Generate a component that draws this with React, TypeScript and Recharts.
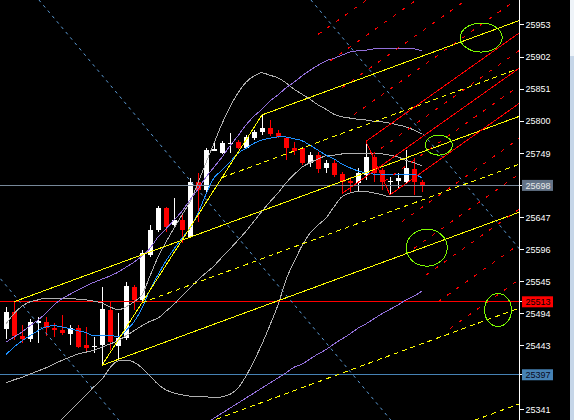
import React from 'react';
import {
  ComposedChart,
  Bar,
  Line,
  XAxis,
  YAxis,
  ReferenceLine,
  ReferenceDot,
} from 'recharts';

// candles, one entry per bar (left to right)
const opens = [25470, 25497, 25459, 25454, 25480, 25481, 25471, 25468, 25462, 25471, 25444, 25441, 25444, 25500, 25443, 25455, 25537, 25516, 25588, 25627, 25662, 25635, 25643, 25616, 25704, 25691, 25753, 25750, 25764, 25767, 25758, 25774, 25783, 25789, 25781, 25774, 25758, 25758, 25734, 25747, 25726, 25734, 25716, 25705, 25702, 25715, 25743, 25723, 25704, 25705, 25704, 25724, 25704];
const highs = [25505, 25513, 25476, 25486, 25489, 25489, 25479, 25492, 25476, 25476, 25473, 25457, 25537, 25513, 25495, 25544, 25540, 25596, 25635, 25665, 25664, 25678, 25654, 25710, 25718, 25758, 25769, 25768, 25782, 25770, 25778, 25786, 25810, 25802, 25786, 25775, 25767, 25759, 25751, 25751, 25739, 25740, 25719, 25712, 25726, 25768, 25747, 25726, 25712, 25718, 25754, 25742, 25707];
const lows = [25454, 25452, 25448, 25449, 25448, 25459, 25457, 25460, 25444, 25440, 25432, 25432, 25412, 25436, 25420, 25452, 25500, 25511, 25584, 25624, 25624, 25632, 25606, 25614, 25640, 25686, 25753, 25748, 25750, 25756, 25756, 25770, 25778, 25777, 25774, 25739, 25747, 25731, 25727, 25718, 25718, 25712, 25685, 25686, 25688, 25707, 25704, 25691, 25683, 25694, 25702, 25683, 25688];
const closes = [25497, 25459, 25454, 25481, 25483, 25471, 25468, 25464, 25471, 25441, 25440, 25442, 25502, 25449, 25456, 25538, 25516, 25591, 25627, 25662, 25632, 25643, 25627, 25704, 25691, 25754, 25756, 25766, 25766, 25758, 25775, 25783, 25789, 25780, 25775, 25758, 25753, 25734, 25747, 25724, 25734, 25715, 25704, 25702, 25718, 25743, 25718, 25704, 25705, 25710, 25726, 25704, 25698];

// indicator lines, one value per bar
const maLine = [25429, 25441, 25451, 25459, 25467, 25473, 25475, 25473, 25470, 25467, 25464, 25459, 25460, 25460, 25457, 25467, 25481, 25503, 25532, 25556, 25578, 25597, 25614, 25630, 25654, 25684, 25710, 25722, 25735, 25749, 25757, 25765, 25770, 25773, 25775, 25775, 25772, 25769, 25762, 25754, 25746, 25740, 25732, 25726, 25721, 25718, 25716, 25716, 25715, 25715, 25715, 25715, 25710];
const bandUpper = [25478, 25494, 25506, 25513, 25516, 25519, 25519, 25519, 25519, 25517, 25516, 25514, 25511, 25505, 25500, 25505, 25513, 25524, 25554, 25584, 25608, 25630, 25651, 25672, 25702, 25734, 25765, 25796, 25823, 25845, 25862, 25872, 25877, 25873, 25869, 25861, 25851, 25843, 25835, 25826, 25819, 25811, 25807, 25805, 25803, 25802, 25800, 25799, 25797, 25794, 25791, 25786, 25780];
const bandMiddle = [25384, 25389, 25393, 25398, 25403, 25408, 25414, 25420, 25425, 25430, 25433, 25436, 25441, 25446, 25451, 25459, 25467, 25475, 25482, 25487, 25498, 25509, 25522, 25535, 25548, 25559, 25570, 25584, 25597, 25611, 25625, 25641, 25657, 25672, 25686, 25702, 25715, 25727, 25734, 25740, 25745, 25746, 25748, 25749, 25749, 25749, 25748, 25748, 25746, 25743, 25738, 25734, 25729];
const bandLower = [null, null, null, null, 25284, 25298, 25312, 25327, 25339, 25352, 25365, 25378, 25390, 25408, 25419, 25420, 25417, 25408, 25395, 25382, 25373, 25368, 25365, 25363, 25362, 25362, 25360, 25362, 25366, 25376, 25395, 25419, 25446, 25476, 25508, 25548, 25576, 25602, 25622, 25635, 25646, 25664, 25680, 25686, 25688, 25688, 25686, 25683, 25680, 25680, 25680, 25680, 25680];
const envelopeUpper = [25449, 25457, 25465, 25475, 25484, 25495, 25508, 25518, 25525, 25532, 25538, 25544, 25549, 25554, 25560, 25568, 25576, 25586, 25598, 25616, 25629, 25643, 25657, 25675, 25692, 25711, 25727, 25743, 25761, 25777, 25794, 25808, 25819, 25832, 25842, 25853, 25862, 25872, 25881, 25889, 25896, 25900, 25905, 25910, 25912, 25913, 25915, 25916, 25916, 25916, 25916, 25915, 25912];
const envelopeLower = [null, null, null, null, null, null, null, null, null, null, null, null, null, null, null, null, null, null, null, null, null, null, null, null, 25312, 25320, 25328, 25336, 25344, 25352, 25360, 25368, 25376, 25384, 25392, 25400, 25409, 25414, 25422, 25430, 25437, 25446, 25454, 25462, 25471, 25478, 25486, 25494, 25501, 25508, 25516, 25522, 25530];

// price scale
const priceTicks = [25953, 25902, 25851, 25800, 25749, 25698, 25647, 25596, 25545, 25513, 25494, 25443, 25397, 25341];
const bidPrice = 25698;
const resistPrice = 25513;
const supportPrice = 25397;

// pitchforks: [handle, upper pivot, lower pivot] as (bar, price)
const yellowPivots = [{ x: 1, y: 25513 }, { x: 32, y: 25810 }, { x: 12, y: 25412 }];
const yellowLevels = [0.25, 0.75, 1.5, 2];
const redPivots = [{ x: 42, y: 25685 }, { x: 45, y: 25768 }, { x: 48, y: 25683 }];
const redLevels = [-2, -1.5, -1, -0.5, 0.25, 0.75, 1.5, 2, 2.5, 3, 3.5];

// dotted channel, each line runs from (from, top) to (to, bottom)
const channelTop = 25993;
const channelBottom = 25325;
const channelFrom = [-29.9, 4.1, 38.1];
const channelTo = [14.1, 48.1, 82.1];

// circled zones (bar, price)
const ringBars = [59.4, 54.1, 52.6, 61.5];
const ringPrices = [25933, 25762, 25599, 25500];

const RING_SIZE = [
  [21, 14.5],
  [13.5, 10],
  [20.5, 18.5],
  [13.5, 16.5],
];
const FONT = '"Liberation Sans", Arial, sans-serif';
const END_BAR = 70;
const CRISP = 'crispEdges';

type Pt = { x: number; y: number };

const rows = opens.map((o, i) => ({
  k: i,
  range: [lows[i], highs[i]],
  o,
  h: highs[i],
  l: lows[i],
  c: closes[i],
  ma: maLine[i],
  bu: bandUpper[i],
  bm: bandMiddle[i],
  bl: bandLower[i],
  eu: envelopeUpper[i],
  el: envelopeLower[i],
}));

function extend(from: Pt, slope: number): [Pt, Pt] {
  return [from, { x: END_BAR, y: from.y + slope * (END_BAR - from.x) }];
}

function pitchfork(pivots: Pt[], levels: number[]) {
  const [p1, a, b] = pivots;
  const mid = { x: (a.x + b.x) / 2, y: (a.y + b.y) / 2 };
  const slope = (mid.y - p1.y) / (mid.x - p1.x);
  const at = (f: number) => ({ x: a.x + f * (b.x - a.x), y: a.y + f * (b.y - a.y) });
  return {
    solid: [extend(p1, slope), extend(a, slope), extend(b, slope), [a, b] as [Pt, Pt]],
    dashed: levels.map((f) => extend(at(f), slope)),
  };
}

const yellowFork = pitchfork(yellowPivots, yellowLevels);
const redFork = pitchfork(redPivots, redLevels);

function Candle(props: any) {
  const { x, y, width, height, payload } = props;
  if (!payload) return null;
  const { o, h, l, c } = payload;
  const color = c >= o ? '#ffffff' : '#ff0000';
  const top = Math.min(y, y + height);
  const span = Math.abs(height);
  const ppu = span / (h - l || 1);
  const bodyTop = top + (h - Math.max(o, c)) * ppu;
  const bodyBot = top + (h - Math.min(o, c)) * ppu;
  const cx = Math.floor(x + width / 2) + 0.5;
  return (
    <g shapeRendering={CRISP}>
      <line x1={cx} x2={cx} y1={top} y2={top + span} stroke={color} strokeWidth={1} />
      <rect
        x={cx - width / 2}
        y={bodyTop}
        width={width}
        height={Math.max(1, bodyBot - bodyTop)}
        fill={color}
      />
    </g>
  );
}

const TAGS: Record<number, { bg: string; fg: string }> = {
  [bidPrice]: { bg: '#637387', fg: '#e8e8e8' },
  [resistPrice]: { bg: '#ff0000', fg: '#000000' },
  [supportPrice]: { bg: '#4682b4', fg: '#0a0a20' },
};

function PriceTick(props: any) {
  const { x, y, payload } = props;
  const v = payload.value;
  const tag = TAGS[v];
  return (
    <g>
      {tag && <rect x={x - 3.5} y={y - 5.5} width={31} height={11} fill={tag.bg} />}
      <text
        x={x}
        y={y}
        dy="0.36em"
        textAnchor="start"
        fontSize={9}
        fontFamily={FONT}
        fill={tag ? tag.fg : '#ffffff'}
      >
        {v}
      </text>
    </g>
  );
}

const curve = (key: string, color: string) => (
  <Line
    dataKey={key}
    type="monotone"
    stroke={color}
    strokeWidth={1}
    dot={false}
    activeDot={false}
    shapeRendering={CRISP}
    isAnimationActive={false}
  />
);

export default function App() {
  return (
    <div
      style={{
        position: 'absolute',
        left: 0,
        top: 0,
        width: 574,
        height: 420,
        background: '#000',
        overflow: 'hidden',
      }}
    >
      <ComposedChart width={574} height={420} data={rows} margin={{ top: 0, right: 0, bottom: 0, left: 0 }}>
        <XAxis
          type="number"
          dataKey="k"
          domain={[-0.75, 64.1875]}
          ticks={rows.map((r) => r.k)}
          allowDataOverflow
          hide
        />
        <YAxis
          orientation="right"
          width={54.5}
          type="number"
          domain={[25325.1, 25992.7]}
          allowDataOverflow
          ticks={priceTicks}
          interval={0}
          tickSize={4}
          tickMargin={2}
          axisLine={{ stroke: '#ffffff' }}
          tickLine={{ stroke: '#ffffff', shapeRendering: CRISP }}
          tick={<PriceTick />}
        />

        <ReferenceLine y={bidPrice} stroke="#778899" strokeWidth={1} shapeRendering={CRISP} />
        <ReferenceLine y={resistPrice} stroke="#ff0000" strokeWidth={1} shapeRendering={CRISP} />
        <ReferenceLine y={supportPrice} stroke="#4682b4" strokeWidth={1} shapeRendering={CRISP} />

        {channelFrom.map((from, i) => (
          <ReferenceLine
            key={'ch' + i}
            segment={[
              { x: from, y: channelTop },
              { x: channelTo[i], y: channelBottom },
            ]}
            stroke="#5b9bd5"
            strokeDasharray="3 4"
            ifOverflow="hidden"
          />
        ))}

        <Bar dataKey="range" barSize={5} shape={<Candle />} isAnimationActive={false} />

        {curve('bu', '#b0b0b0')}
        {curve('bm', '#b0b0b0')}
        {curve('bl', '#b0b0b0')}
        {curve('eu', '#9370db')}
        {curve('el', '#9370db')}
        {curve('ma', '#1e90ff')}

        {yellowFork.solid.map((seg, i) => (
          <ReferenceLine key={'ys' + i} segment={seg} stroke="#ffff00" strokeWidth={1} shapeRendering={CRISP} ifOverflow="hidden" />
        ))}
        {yellowFork.dashed.map((seg, i) => (
          <ReferenceLine key={'yd' + i} segment={seg} stroke="#ffff00" strokeDasharray="5 4" shapeRendering={CRISP} ifOverflow="hidden" />
        ))}
        {redFork.solid.map((seg, i) => (
          <ReferenceLine key={'rs' + i} segment={seg} stroke="#ff0000" strokeWidth={1} shapeRendering={CRISP} ifOverflow="hidden" />
        ))}
        {redFork.dashed.map((seg, i) => (
          <ReferenceLine key={'rd' + i} segment={seg} stroke="#ff0000" strokeDasharray="4 7" shapeRendering={CRISP} ifOverflow="hidden" />
        ))}

        {ringBars.map((bx, i) => (
          <ReferenceDot
            key={'ring' + i}
            x={bx}
            y={ringPrices[i]}
            r={1}
            shape={(p: any) => (
              <ellipse
                cx={p.cx}
                cy={p.cy}
                rx={RING_SIZE[i][0]}
                ry={RING_SIZE[i][1]}
                fill="none"
                stroke="#7cfc00"
                strokeWidth={1}
                shapeRendering={CRISP}
              />
            )}
          />
        ))}
      </ComposedChart>
      <div style={{ position: 'absolute', left: 570, top: 0, width: 4, height: 56, background: '#eef3f8' }} />
      <div style={{ position: 'absolute', left: 570, top: 56, width: 4, height: 364, background: '#c6d6e8' }} />
    </div>
  );
}
